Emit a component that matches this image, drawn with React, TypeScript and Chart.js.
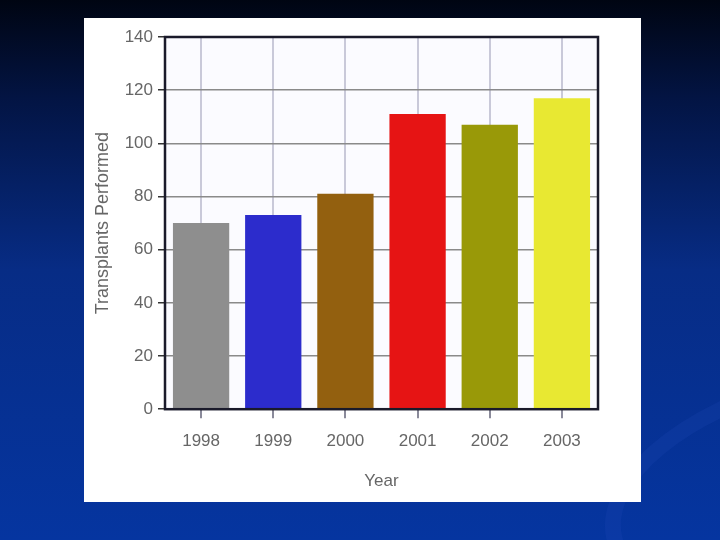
import React, { useEffect, useRef } from "react";
import { Chart, registerables } from "chart.js";

Chart.register(...registerables);

const years = ["1998", "1999", "2000", "2001", "2002", "2003"];
const transplants = [70, 73, 81, 111, 107, 117];
const barColors = ["#8e8e8e", "#2c2ccc", "#93600f", "#e61414", "#999908", "#e8e832"];
const yTicks = [0, 20, 40, 60, 80, 100, 120, 140];

const FONT = "Liberation Sans, Arial, sans-serif";

const plotFrame = {
  id: "plotFrame",
  beforeDraw(chart: any) {
    const { ctx, chartArea } = chart;
    if (!chartArea) return;
    ctx.save();
    ctx.fillStyle = "#fbfbff";
    ctx.fillRect(chartArea.left, chartArea.top, chartArea.right - chartArea.left, chartArea.bottom - chartArea.top);
    ctx.restore();
  },
  afterDatasetsDraw(chart: any) {
    const { ctx, chartArea } = chart;
    ctx.save();
    ctx.strokeStyle = "#1a1a2a";
    ctx.lineWidth = 2.5;
    ctx.strokeRect(chartArea.left, chartArea.top, chartArea.right - chartArea.left, chartArea.bottom - chartArea.top);
    ctx.restore();
  },
};

export default function App() {
  const ref = useRef<HTMLCanvasElement>(null);
  useEffect(() => {
    if (!ref.current) return;
    const chart = new Chart(ref.current, {
      type: "bar",
      data: {
        labels: years,
        datasets: [
          {
            data: transplants,
            backgroundColor: barColors,
            borderWidth: 0,
            barPercentage: 0.78,
            categoryPercentage: 1,
          },
        ],
      },
      options: {
        animation: false,
        responsive: false,
        layout: { padding: { left: 8, right: 43, top: 19, bottom: 10 } },
        plugins: { legend: { display: false }, tooltip: { enabled: false } },
        scales: {
          x: {
            grid: {
              offset: false,
              color: "#c9c9d9",
              lineWidth: 2,
              tickLength: 9,
              tickColor: "#8a8a9a",
              drawTicks: true,
            },
            border: { display: false },
            ticks: {
              color: "#666",
              padding: 13,
              font: { family: FONT, size: 17 },
            },
            title: {
              display: true,
              text: "Year",
              color: "#666",
              padding: { top: 7, bottom: 0 },
              font: { family: FONT, size: 17 },
            },
          },
          y: {
            min: 0,
            max: 140,
            afterBuildTicks(scale: any) {
              scale.ticks = yTicks.map((v) => ({ value: v }));
            },
            afterFit(scale: any) {
              scale.width = 73;
            },
            grid: {
              color: "#8a8a8a",
              lineWidth: 1.5,
              tickLength: 7,
              tickColor: "#333",
            },
            border: { display: false },
            ticks: {
              color: "#666",
              padding: 5,
              font: { family: FONT, size: 17 },
            },
            title: {
              display: true,
              text: "Transplants Performed",
              color: "#666",
              padding: { top: 0, bottom: 4 },
              font: { family: FONT, size: 18 },
            },
          },
        },
      },
      plugins: [plotFrame],
    });
    return () => chart.destroy();
  }, []);

  return (
    <div
      style={{
        position: "fixed",
        left: 0,
        top: 0,
        width: 720,
        height: 540,
        overflow: "hidden",
        background: "linear-gradient(to bottom, #000512 0%, #031443 18%, #072c85 50%, #0535a0 100%)",
      }}
    >
      <div
        style={{
          position: "absolute",
          left: 600,
          top: 370,
          width: 420,
          height: 200,
          borderRadius: "50%",
          border: "16px solid rgba(40,80,190,0.18)",
          transform: "rotate(-14deg)",
        }}
      />
      <div
        style={{
          position: "absolute",
          left: 84,
          top: 18,
          width: 557,
          height: 484,
          background: "#ffffff",
        }}
      >
        <canvas ref={ref} width={557} height={484} style={{ display: "block" }} />
      </div>
    </div>
  );
}
